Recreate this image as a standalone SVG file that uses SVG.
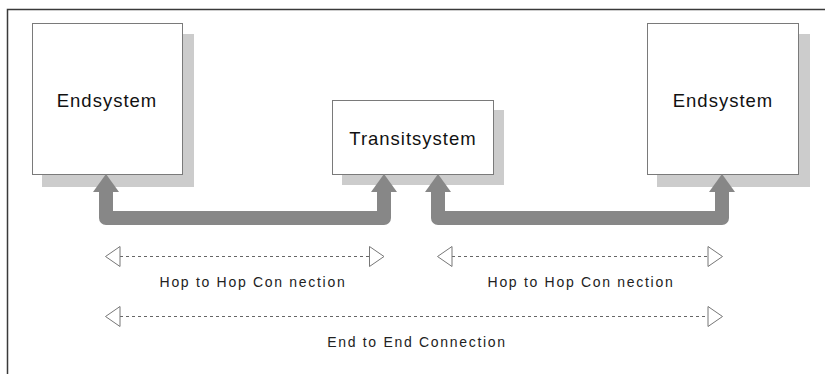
<svg xmlns="http://www.w3.org/2000/svg" width="825" height="374" viewBox="0 0 825 374">
  <style>
    .shadow { fill: #cccccc; }
    .box { fill: #ffffff; stroke: #7a7a7a; stroke-width: 1; }
    .title { font-family: "Liberation Sans", Arial, sans-serif; font-size: 18.5px; letter-spacing: 1px; fill: #111111; text-anchor: middle; }
    .label { font-family: "Liberation Sans", Arial, sans-serif; font-size: 14px; letter-spacing: 1.7px; fill: #222222; text-anchor: middle; }
    .pipe { fill: none; stroke: #878787; stroke-width: 14; stroke-linejoin: round; }
    .head { fill: #878787; }
    .dash { stroke: #666666; stroke-width: 1; stroke-dasharray: 3 3; fill: none; }
    .open { fill: #ffffff; stroke: #777777; stroke-width: 1; }
  </style>

  <rect width="825" height="374" fill="#ffffff"/>
  <!-- outer frame: left and top edges -->
  <path d="M7.5,374 V9.5 H825" fill="none" stroke="#3a3a3a" stroke-width="1.5"/>

  <g id="endsystem-left">
    <rect class="shadow" x="42" y="34" width="152" height="153"/>
    <rect class="box" x="32.5" y="23.5" width="150" height="151"/>
    <text class="title" x="107" y="107">Endsystem</text>
  </g>

  <g id="transitsystem">
    <rect class="shadow" x="342" y="110" width="162" height="75"/>
    <rect class="box" x="332.5" y="100.5" width="161" height="74"/>
    <text class="title" x="413" y="145">Transitsystem</text>
  </g>

  <g id="endsystem-right">
    <rect class="shadow" x="657" y="34" width="153" height="153"/>
    <rect class="box" x="647.5" y="23.5" width="151" height="151"/>
    <text class="title" x="723" y="107">Endsystem</text>
  </g>

  <g id="connectors">
    <!-- physical links -->
    <path class="pipe" d="M106,190 V218 H384 V190"/>
    <polygon class="head" points="93,192 119,192 106,174"/>
    <polygon class="head" points="371,192 397,192 384,174"/>

    <path class="pipe" d="M438,190 V218 H722 V190"/>
    <polygon class="head" points="425,192 451,192 438,174"/>
    <polygon class="head" points="709,192 735,192 722,174"/>

    <!-- hop to hop, first segment -->
    <line class="dash" x1="120" y1="256.5" x2="369" y2="256.5"/>
    <polygon class="open" points="105.5,256.5 120,246.5 120,266.5"/>
    <polygon class="open" points="384,256.5 369.5,246.5 369.5,266.5"/>

    <!-- hop to hop, second segment -->
    <line class="dash" x1="452" y1="256.5" x2="708" y2="256.5"/>
    <polygon class="open" points="437.5,256.5 452,246.5 452,266.5"/>
    <polygon class="open" points="722.5,256.5 708,246.5 708,266.5"/>

    <!-- end to end -->
    <line class="dash" x1="120" y1="316.5" x2="708" y2="316.5"/>
    <polygon class="open" points="105.5,316.5 120,306.5 120,326.5"/>
    <polygon class="open" points="722.5,316.5 708,306.5 708,326.5"/>
  </g>

  <text class="label" x="253" y="287">Hop to Hop Con nection</text>
  <text class="label" x="581" y="287">Hop to Hop Con nection</text>
  <text class="label" x="417" y="347">End to End Connection</text>
</svg>
